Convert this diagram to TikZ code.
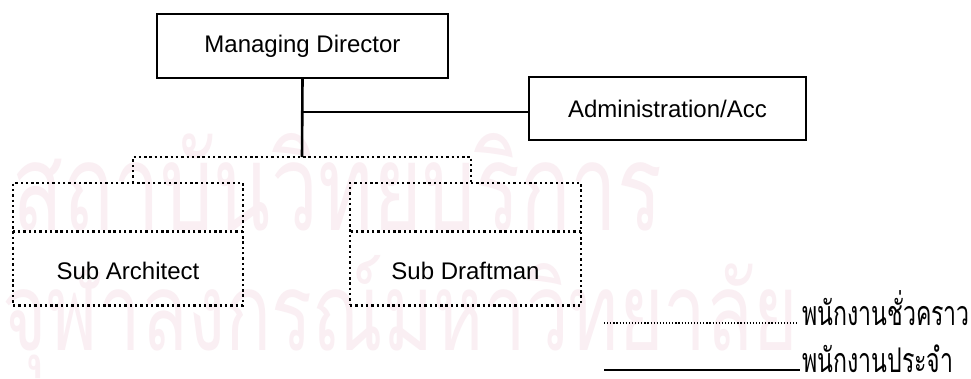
\documentclass[tikz,border=0pt]{standalone}
\usepackage{fontspec}
\usetikzlibrary{shapes.multipart}
\setmainfont{Liberation Sans}
\newfontfamily\thaifont[Script=Thai]{Loma}
\newfontfamily\thainarrow[Script=Thai,FakeStretch=0.68]{Loma}
\definecolor{wmpink}{RGB}{250,239,243}
\begin{document}
\begin{tikzpicture}[x=1pt,y=-1pt,
  solidbox/.style={draw,rectangle,inner sep=0pt,outer sep=0pt,font=\fontsize{24}{28}\selectfont},
  dotline/.style={line width=2.4pt,dash pattern=on 2.4pt off 2.9pt},
  splitbox/.style={draw,dotline,rectangle split,rectangle split parts=2,
    inner sep=0pt,outer sep=0pt,font=\fontsize{24}{28}\selectfont},
  wm/.style={text=wmpink,inner sep=0pt,anchor=base west},
  legendtext/.style={inner sep=0pt,anchor=base west,font=\thainarrow\fontsize{34}{36}\selectfont}]
\useasboundingbox (0,0) rectangle (971,378);
\fill[white] (0,0) rectangle (971,378);

% faint background lettering
\node[wm] (wm1) at (12,230) {\resizebox{650pt}{97pt}{\thaifont สถาบันวิทยบริการ}};
\node[wm] (wm2) at (2,350) {\resizebox{795pt}{95pt}{\thaifont จุฬาลงกรณ์มหาวิทยาลัย}};

% permanent staff
\node[solidbox,line width=2.6pt,minimum width=291pt,minimum height=64pt] (md) at (302.5,46) {Managing Director};
\node[solidbox,line width=2pt,minimum width=277pt,minimum height=63pt] (adm) at (667.5,108.5) {Administration/Acc};

% temporary staff: empty upper part, titled lower part
\node[splitbox,anchor=north] (sa) at (128,183)
  {\rule{230pt}{0pt}\rule{0pt}{46pt}\nodepart{two}\rule[-24.5pt]{0pt}{71.5pt}Sub Architect};
\node[splitbox,anchor=north] (sd) at (465.5,183)
  {\rule{231pt}{0pt}\rule{0pt}{46pt}\nodepart{two}\rule[-24.5pt]{0pt}{71.5pt}Sub Draftman};

% connectors
\coordinate (split) at (302,157);
\coordinate (admjoin) at (302,112);
\coordinate (sadrop) at (133,183);
\coordinate (sddrop) at (471,183);
\draw[line width=2.6pt] (md.south) -- (split);
\draw[line width=1.6pt] (admjoin) -- (admjoin -| adm.west);
\draw[dotline] (sadrop) |- (split) -| (sddrop);

% legend
\coordinate (l1a) at (604,323);
\coordinate (l1b) at (798,323);
\coordinate (l2a) at (604,370);
\coordinate (l2b) at (800,370);
\draw[line width=1.2pt,dash pattern=on 1.2pt off 1.9pt] (l1a) -- (l1b);
\draw[line width=1.7pt] (l2a) -- (l2b);
\node[legendtext] (lg1) at (802,325) {พนักงานชั่วคราว};
\node[legendtext] (lg2) at (802,372) {พนักงานประจำ};
\end{tikzpicture}
\end{document}
